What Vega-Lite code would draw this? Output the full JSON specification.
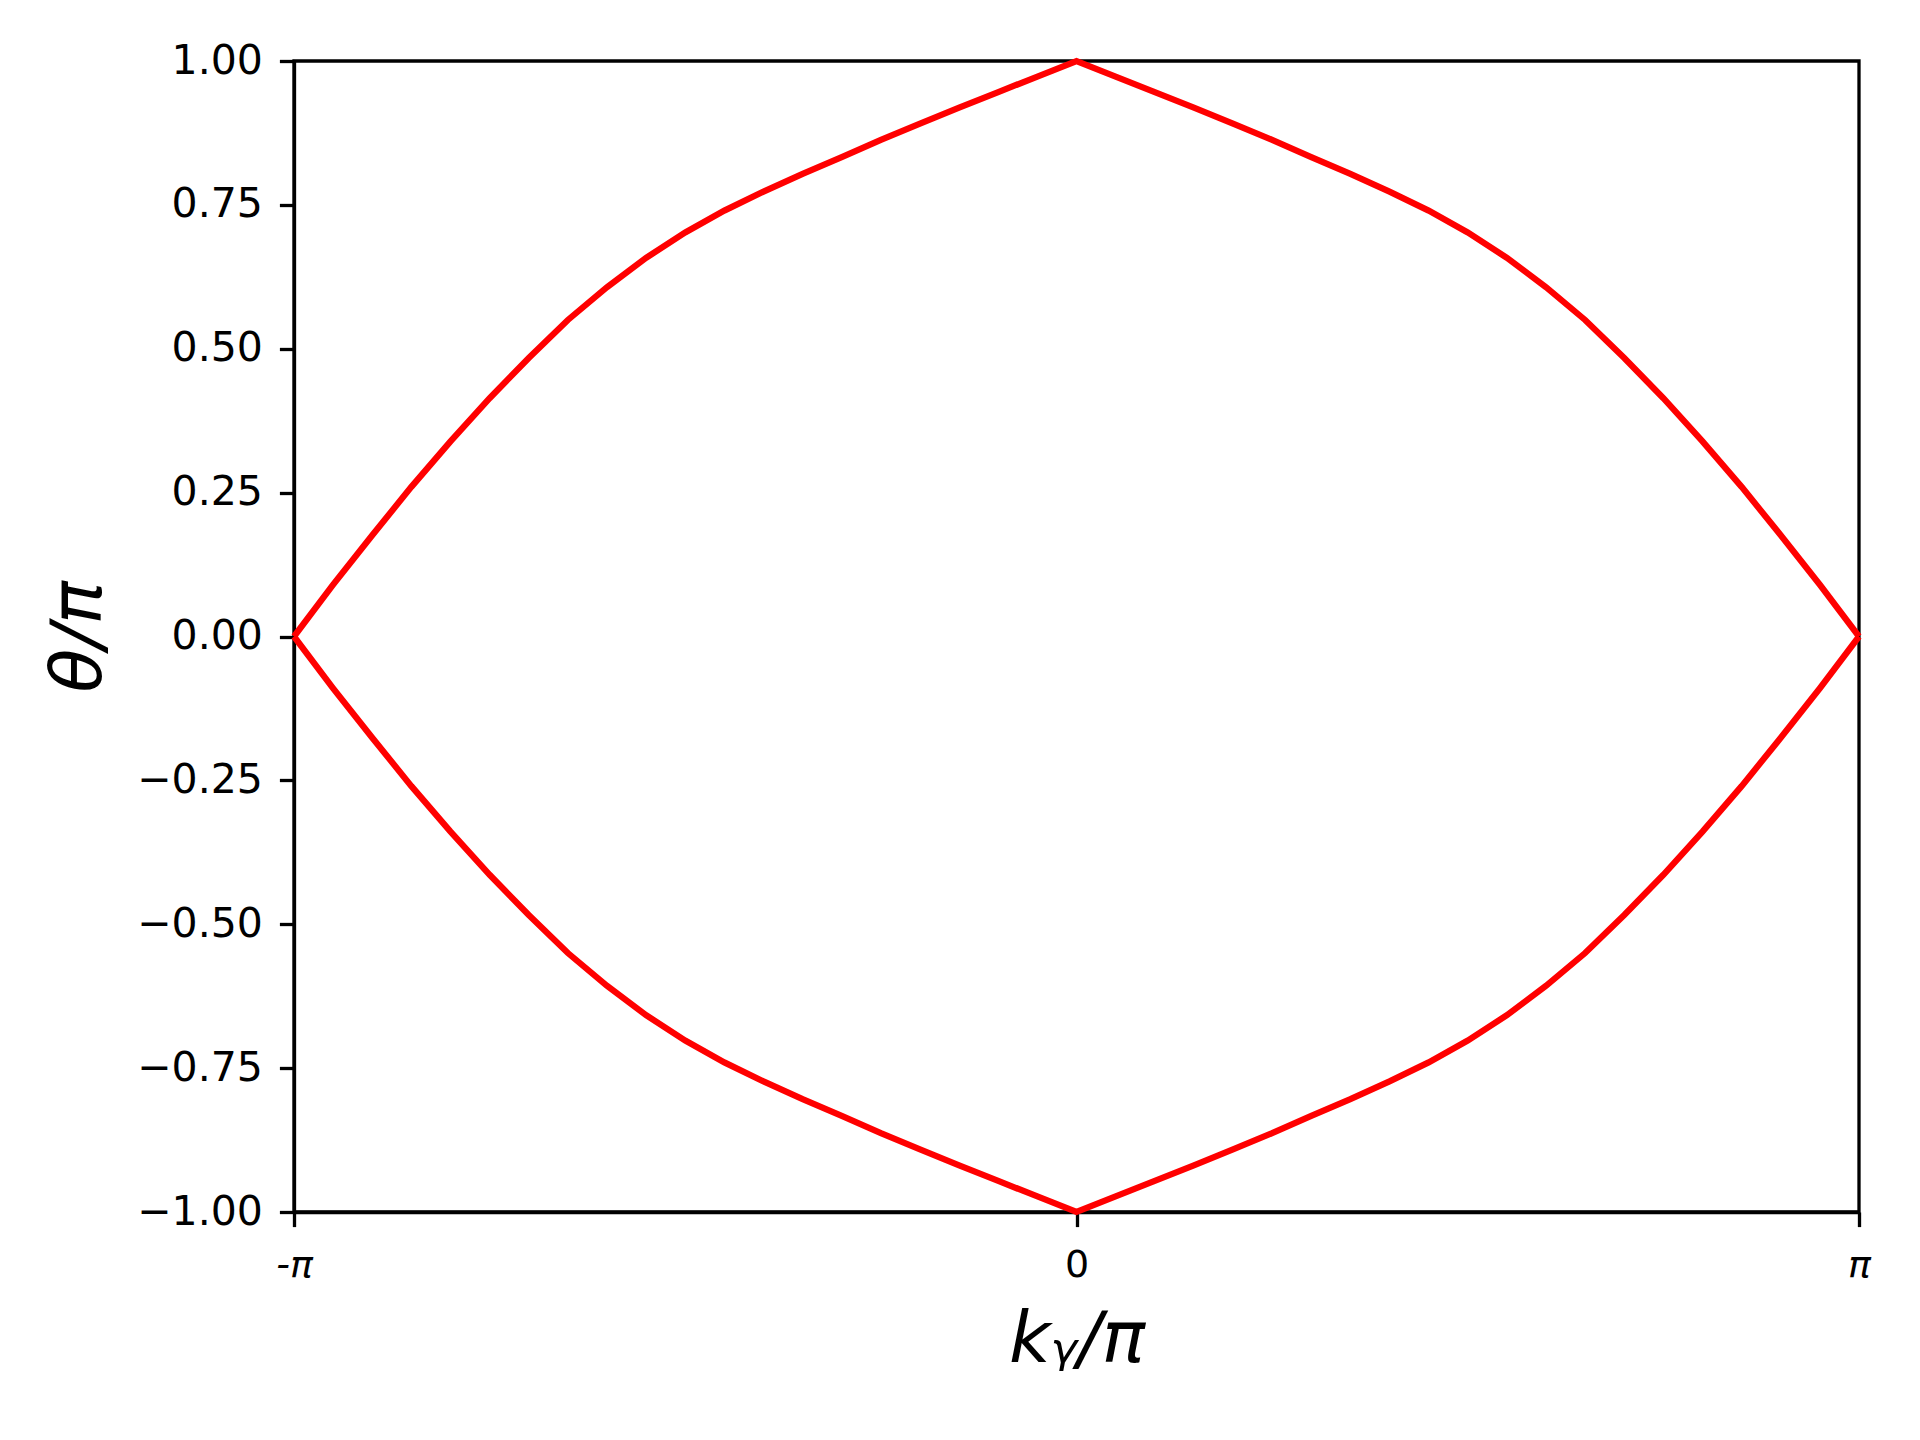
{
  "$schema": "https://vega.github.io/schema/vega-lite/v6.json",
  "autosize": {"type": "none"},
  "width": 1565,
  "height": 1151,
  "padding": {"left": 294, "top": 61, "right": 61, "bottom": 228},
  "background": "white",
  "config": {
    "view": {"stroke": "black", "strokeWidth": 3.3},
    "font": "DejaVu Sans",
    "axis": {
      "domainColor": "black",
      "domainWidth": 3.3,
      "tickColor": "black",
      "tickWidth": 3.3,
      "tickSize": 14.6,
      "labelPadding": 17,
      "labelFont": "DejaVu Sans",
      "labelFontSize": 41,
      "labelColor": "black",
      "titleFont": "DejaVu Sans",
      "titleFontSize": 72,
      "titleFontWeight": "normal",
      "titleFontStyle": "italic",
      "titleColor": "black",
      "grid": false
    }
  },
  "data": {
    "values": [
      {"ky": -1.00, "theta": 0.000, "branch": "upper"},
      {"ky": -0.95, "theta": 0.090, "branch": "upper"},
      {"ky": -0.90, "theta": 0.176, "branch": "upper"},
      {"ky": -0.85, "theta": 0.260, "branch": "upper"},
      {"ky": -0.80, "theta": 0.339, "branch": "upper"},
      {"ky": -0.75, "theta": 0.414, "branch": "upper"},
      {"ky": -0.70, "theta": 0.484, "branch": "upper"},
      {"ky": -0.65, "theta": 0.550, "branch": "upper"},
      {"ky": -0.60, "theta": 0.607, "branch": "upper"},
      {"ky": -0.55, "theta": 0.658, "branch": "upper"},
      {"ky": -0.50, "theta": 0.702, "branch": "upper"},
      {"ky": -0.45, "theta": 0.740, "branch": "upper"},
      {"ky": -0.40, "theta": 0.773, "branch": "upper"},
      {"ky": -0.35, "theta": 0.804, "branch": "upper"},
      {"ky": -0.30, "theta": 0.833, "branch": "upper"},
      {"ky": -0.25, "theta": 0.863, "branch": "upper"},
      {"ky": -0.20, "theta": 0.891, "branch": "upper"},
      {"ky": -0.15, "theta": 0.919, "branch": "upper"},
      {"ky": -0.10, "theta": 0.946, "branch": "upper"},
      {"ky": -0.05, "theta": 0.973, "branch": "upper"},
      {"ky": 0.00, "theta": 1.000, "branch": "upper"},
      {"ky": 0.05, "theta": 0.973, "branch": "upper"},
      {"ky": 0.10, "theta": 0.946, "branch": "upper"},
      {"ky": 0.15, "theta": 0.919, "branch": "upper"},
      {"ky": 0.20, "theta": 0.891, "branch": "upper"},
      {"ky": 0.25, "theta": 0.863, "branch": "upper"},
      {"ky": 0.30, "theta": 0.833, "branch": "upper"},
      {"ky": 0.35, "theta": 0.804, "branch": "upper"},
      {"ky": 0.40, "theta": 0.773, "branch": "upper"},
      {"ky": 0.45, "theta": 0.740, "branch": "upper"},
      {"ky": 0.50, "theta": 0.702, "branch": "upper"},
      {"ky": 0.55, "theta": 0.658, "branch": "upper"},
      {"ky": 0.60, "theta": 0.607, "branch": "upper"},
      {"ky": 0.65, "theta": 0.550, "branch": "upper"},
      {"ky": 0.70, "theta": 0.484, "branch": "upper"},
      {"ky": 0.75, "theta": 0.414, "branch": "upper"},
      {"ky": 0.80, "theta": 0.339, "branch": "upper"},
      {"ky": 0.85, "theta": 0.260, "branch": "upper"},
      {"ky": 0.90, "theta": 0.176, "branch": "upper"},
      {"ky": 0.95, "theta": 0.090, "branch": "upper"},
      {"ky": 1.00, "theta": 0.000, "branch": "upper"},
      {"ky": -1.00, "theta": -0.000, "branch": "lower"},
      {"ky": -0.95, "theta": -0.090, "branch": "lower"},
      {"ky": -0.90, "theta": -0.176, "branch": "lower"},
      {"ky": -0.85, "theta": -0.260, "branch": "lower"},
      {"ky": -0.80, "theta": -0.339, "branch": "lower"},
      {"ky": -0.75, "theta": -0.414, "branch": "lower"},
      {"ky": -0.70, "theta": -0.484, "branch": "lower"},
      {"ky": -0.65, "theta": -0.550, "branch": "lower"},
      {"ky": -0.60, "theta": -0.607, "branch": "lower"},
      {"ky": -0.55, "theta": -0.658, "branch": "lower"},
      {"ky": -0.50, "theta": -0.702, "branch": "lower"},
      {"ky": -0.45, "theta": -0.740, "branch": "lower"},
      {"ky": -0.40, "theta": -0.773, "branch": "lower"},
      {"ky": -0.35, "theta": -0.804, "branch": "lower"},
      {"ky": -0.30, "theta": -0.833, "branch": "lower"},
      {"ky": -0.25, "theta": -0.863, "branch": "lower"},
      {"ky": -0.20, "theta": -0.891, "branch": "lower"},
      {"ky": -0.15, "theta": -0.919, "branch": "lower"},
      {"ky": -0.10, "theta": -0.946, "branch": "lower"},
      {"ky": -0.05, "theta": -0.973, "branch": "lower"},
      {"ky": 0.00, "theta": -1.000, "branch": "lower"},
      {"ky": 0.05, "theta": -0.973, "branch": "lower"},
      {"ky": 0.10, "theta": -0.946, "branch": "lower"},
      {"ky": 0.15, "theta": -0.919, "branch": "lower"},
      {"ky": 0.20, "theta": -0.891, "branch": "lower"},
      {"ky": 0.25, "theta": -0.863, "branch": "lower"},
      {"ky": 0.30, "theta": -0.833, "branch": "lower"},
      {"ky": 0.35, "theta": -0.804, "branch": "lower"},
      {"ky": 0.40, "theta": -0.773, "branch": "lower"},
      {"ky": 0.45, "theta": -0.740, "branch": "lower"},
      {"ky": 0.50, "theta": -0.702, "branch": "lower"},
      {"ky": 0.55, "theta": -0.658, "branch": "lower"},
      {"ky": 0.60, "theta": -0.607, "branch": "lower"},
      {"ky": 0.65, "theta": -0.550, "branch": "lower"},
      {"ky": 0.70, "theta": -0.484, "branch": "lower"},
      {"ky": 0.75, "theta": -0.414, "branch": "lower"},
      {"ky": 0.80, "theta": -0.339, "branch": "lower"},
      {"ky": 0.85, "theta": -0.260, "branch": "lower"},
      {"ky": 0.90, "theta": -0.176, "branch": "lower"},
      {"ky": 0.95, "theta": -0.090, "branch": "lower"},
      {"ky": 1.00, "theta": -0.000, "branch": "lower"}
    ]
  },
  "mark": {"type": "line", "color": "#ff0000", "strokeWidth": 6.25, "clip": false},
  "encoding": {
    "x": {
      "field": "ky",
      "type": "quantitative",
      "scale": {"domain": [-1, 1], "nice": false, "zero": false},
      "axis": {
        "title": "kᵧ/π",
        "titlePadding": 20,
        "values": [-1, 0, 1],
        "labelFlush": false,
        "labelPadding": 20,
        "labelExpr": "datum.value == -1 ? '-π' : datum.value == 1 ? 'π' : '0'",
        "labelFontStyle": {"condition": {"test": "datum.value == 0", "value": "normal"}, "value": "italic"},
        "labelFontSize": 38
      }
    },
    "y": {
      "field": "theta",
      "type": "quantitative",
      "scale": {"domain": [-1, 1], "nice": false, "zero": false},
      "axis": {
        "title": "θ/π",
        "titlePadding": 21,
        "values": [-1, -0.75, -0.5, -0.25, 0, 0.25, 0.5, 0.75, 1],
        "format": ".2f"
      }
    },
    "detail": {"field": "branch", "type": "nominal"},
    "order": {"field": "ky", "type": "quantitative"}
  }
}
